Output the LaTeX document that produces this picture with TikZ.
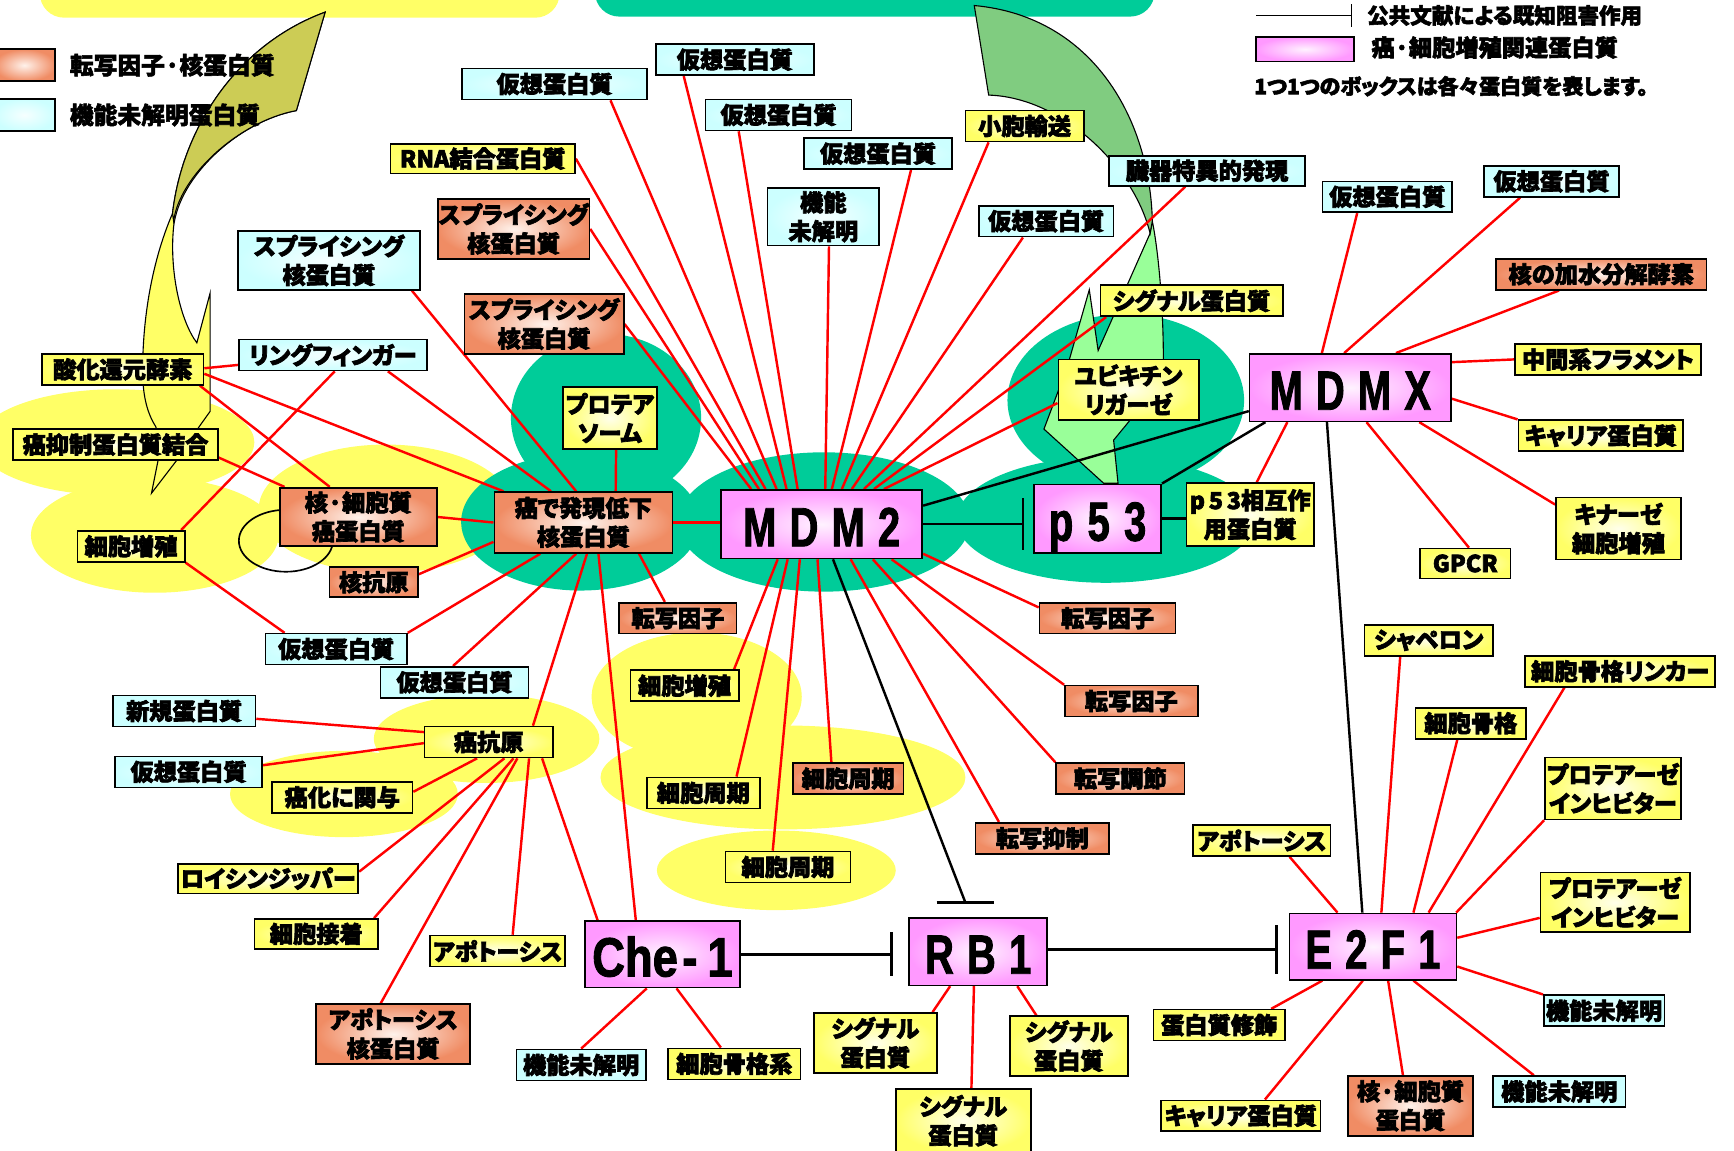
\documentclass[tikz,border=0pt]{standalone}
\usepackage{fontspec}
\setmainfont{Noto Sans CJK JP}[RawFeature=+palt]
\newfontfamily\hubfont{Liberation Sans}[FakeStretch=0.72]
\newfontfamily\chefont{Liberation Sans}[FakeStretch=0.82]
\usetikzlibrary{calc,arrows.meta}
\pgfdeclarelayer{bg}
\pgfdeclarelayer{edges}
\pgfsetlayers{bg,edges,main}
\definecolor{cY}{RGB}{255,255,102}
\definecolor{cYi}{RGB}{255,255,235}
\definecolor{cC}{RGB}{204,255,255}
\definecolor{cCi}{RGB}{246,255,255}
\definecolor{cO}{RGB}{240,140,100}
\definecolor{cOi}{RGB}{255,242,235}
\definecolor{cP}{RGB}{255,153,255}
\definecolor{cPi}{RGB}{255,242,255}
\definecolor{cG}{RGB}{0,204,153}
\definecolor{cOl}{RGB}{204,204,85}
\definecolor{cGd}{RGB}{128,204,128}
\definecolor{cGl}{RGB}{153,255,153}
\newcommand\hubgap{\hspace{12pt}}
\begin{document}
\begin{tikzpicture}[x=1pt,y=-1pt,
  heavy/.style={execute at begin node={\special{pdf:literal direct 2 Tr #1 w}},
                execute at end node={\special{pdf:literal direct 0 Tr}}},
  box/.style={draw=black,line width=1.5pt,inner sep=0pt,align=center,heavy=0.6,
              font=\bfseries\fontsize{21}{26}\selectfont},
  wh/.style 2 args={minimum width=#1pt,minimum height=#2pt},
  yb/.style={box,inner color=cYi,outer color=cY},
  cb/.style={box,inner color=cCi,outer color=cC},
  ob/.style={box,inner color=cOi,outer color=cO},
  pk/.style={box,inner color=cPi,outer color=cP},
  hub/.style={pk,heavy=0.8,font=\hubfont\bfseries\fontsize{50}{50}\selectfont,text height=40pt,text depth=0pt},
  lg/.style={anchor=west,inner sep=0pt,heavy=0.5},
  redl/.style={draw=red,line width=2.2pt},
  blk/.style={draw=black,line width=2.2pt},
  inh/.style={blk,-{Bar[width=#1pt,line width=2.2pt]}},
]
\useasboundingbox (0,0) rectangle (1568,1040);

% ---------------- background ----------------
\begin{pgfonlayer}{bg}
\fill[cY,rounded corners=22pt] (36,-40) rectangle (506,16);
\fill[cG,rounded corners=22pt] (538,-40) rectangle (1044,15);
% yellow clouds
\fill[cY] (105,400) ellipse [x radius=125,y radius=48];
\fill[cY] (140,484) ellipse [x radius=112,y radius=52];
\fill[cY] (349,460) ellipse [x radius=115,y radius=58];
\fill[cY] (440,668) ellipse [x radius=102,y radius=40];
\fill[cY] (311,718) ellipse [x radius=103,y radius=39];
\fill[cY] (630,630) ellipse [x radius=95,y radius=58];
\fill[cY] (708,703) ellipse [x radius=165,y radius=47];
\fill[cY] (702,787) ellipse [x radius=108,y radius=36];
% green clouds
\fill[cG] (745,472) ellipse [x radius=132,y radius=63];
\fill[cG] (548,378) ellipse [x radius=86,y radius=76];
\fill[cG] (525,472) ellipse [x radius=108,y radius=62];
\fill[cG] (1018,362) ellipse [x radius=107,y radius=78];
\fill[cG] (1000,470) ellipse [x radius=135,y radius=57];
% left curved arrow
\filldraw[fill=cY,draw=black,line width=1pt] (294,11) -- (268,100)
  .. controls (215,110) and (162,160) .. (157,205)
  .. controls (153,245) and (163,290) .. (178,310) -- (190,265) -- (190,372)
  -- (180,386) -- (160,416) -- (137,446) -- (143,416) -- (141,386)
  .. controls (132,372) and (129,355) .. (129,335)
  .. controls (129,280) and (140,230) .. (156,193)
  .. controls (165,115) and (215,40) .. (294,11) -- cycle;
\filldraw[fill=cOl,draw=black,line width=1pt] (294,11) -- (268,100)
  .. controls (215,110) and (162,160) .. (157,200) -- (156,193)
  .. controls (165,115) and (215,40) .. (294,11) -- cycle;
% right curved arrow
\filldraw[fill=cGl,draw=black,line width=1pt] (1042,200)
  .. controls (1048,230) and (1052,280) .. (1052,326) -- (1021,381) -- (1007,398)
  -- (1011,437) -- (998,437) -- (944,388) -- (965,332) -- (985,262) -- (993,317)
  -- (1040,211) -- cycle;
\filldraw[fill=cGd,draw=black,line width=1pt] (881,5) -- (894,86)
  .. controls (960,88) and (1025,150) .. (1040,211) -- (1042,200)
  .. controls (1040,110) and (990,15) .. (881,5) -- cycle;
\end{pgfonlayer}

% ---------------- nodes ----------------
\node[cb,wh={167}{28}] (v1) at (501.5,76) {仮想蛋白質};
\node[cb,wh={143}{28}] (v2) at (664.5,54) {仮想蛋白質};
\node[cb,wh={132}{28}] (v3) at (704,104) {仮想蛋白質};
\node[cb,wh={134}{28}] (v4) at (794,139) {仮想蛋白質};
\node[cb,wh={101}{52}] (kino1) at (744.5,196) {機能\\未解明};
\node[cb,wh={122}{28}] (v6) at (946,200) {仮想蛋白質};
\node[yb,wh={107}{28}] (shoho) at (926.5,114) {小胞輸送};
\node[cb,wh={177}{27}] (zoki) at (1091.5,154.5) {臓器特異的発現};
\node[yb,wh={167}{27}] (rna) at (436.5,143.5) {RNA結合蛋白質};
\node[ob,wh={137}{54}] (spl1) at (464.5,207) {スプライシング\\核蛋白質};
\node[cb,wh={165}{53}] (spl2) at (297.5,235.5) {スプライシング\\核蛋白質};
\node[ob,wh={144}{54}] (spl3) at (492,293) {スプライシング\\核蛋白質};
\node[cb,wh={170}{28}] (ring) at (301,321) {リングフィンガー};
\node[yb,wh={146}{28}] (sanka) at (111,334) {酸化還元酵素};
\node[yb,wh={185}{28}] (ganyoku) at (104.5,402) {癌抑制蛋白質結合};
\node[yb,wh={97}{28}] (saibo1) at (118.5,494) {細胞増殖};
\node[ob,wh={142}{53}] (kakusai) at (324,467.5) {核·細胞質\\癌蛋白質};
\node[ob,wh={80}{27}] (kakukogen) at (338,526.5) {核抗原};
\node[ob,wh={161}{55}] (gande) at (527.5,472.5) {癌で発現低下\\核蛋白質};
\node[yb,wh={85}{56}] (prot) at (551.5,378) {プロテア\\ソーム};
\node[yb,wh={127}{55}] (ubiq) at (1020.5,352.5) {ユビキチン\\リガーゼ};
\node[yb,wh={165}{28}] (signal1) at (1077.5,272) {シグナル蛋白質};
\node[yb,wh={115}{57}] (p53i) at (1130.5,465.5) {p\,5\,3相互作\\用蛋白質};
\node[cb,wh={117}{28}] (v24) at (1254.5,178) {仮想蛋白質};
\node[cb,wh={122}{28}] (v25) at (1403,164) {仮想蛋白質};
\node[ob,wh={190}{28}] (kasui) at (1448,248) {核の加水分解酵素};
\node[yb,wh={168}{28}] (chukan) at (1454,325) {中間系フラメント};
\node[yb,wh={149}{28}] (carrier1) at (1447.5,394) {キャリア蛋白質};
\node[yb,wh={113}{56}] (kinase) at (1463.5,478) {キナーゼ\\細胞増殖};
\node[yb,wh={82}{27}] (gpcr) at (1325,509.5) {GPCR};
\node[ob,wh={123}{28}] (tf1) at (1001.5,559) {転写因子};
\node[ob,wh={120}{28}] (tf2) at (1023,634) {転写因子};
\node[ob,wh={116}{28}] (tenchou) at (1013,704) {転写調節};
\node[ob,wh={121}{28}] (tenyoku) at (942.5,758) {転写抑制};
\node[ob,wh={106}{28}] (tf3) at (613,559) {転写因子};
\node[yb,wh={98}{28}] (saibo2) at (619,620) {細胞増殖};
\node[yb,wh={102}{28}] (cyc1) at (636,717) {細胞周期};
\node[ob,wh={100}{28}] (cyc2) at (767,704) {細胞周期};
\node[yb,wh={113}{28}] (cyc3) at (712.5,784) {細胞周期};
\node[cb,wh={128}{28}] (v40) at (304,587) {仮想蛋白質};
\node[cb,wh={134}{28}] (v41) at (411,617) {仮想蛋白質};
\node[cb,wh={129}{28}] (shinki) at (166.5,643) {新規蛋白質};
\node[yb,wh={116}{28}] (gankogen) at (442,671) {癌抗原};
\node[cb,wh={133}{28}] (v44) at (170.5,698) {仮想蛋白質};
\node[yb,wh={127}{28}] (ganka) at (309.5,721) {癌化に関与};
\node[yb,wh={163}{27}] (leucine) at (242.5,794.5) {ロイシンジッパー};
\node[yb,wh={112}{27}] (setchaku) at (286,844.5) {細胞接着};
\node[yb,wh={122}{28}] (apo1) at (450,860) {アポトーシス};
\node[ob,wh={139}{54}] (apo2) at (355.5,935) {アポトーシス\\核蛋白質};
\node[cb,wh={117}{28}] (kino2) at (525.5,963) {機能未解明};
\node[yb,wh={120}{28}] (kokkaku1) at (664,962) {細胞骨格系};
\node[yb,wh={111}{54}] (sig2) at (791.5,943) {シグナル\\蛋白質};
\node[yb,wh={107}{54}] (sig3) at (966.5,946) {シグナル\\蛋白質};
\node[yb,wh={122}{57}] (sig4) at (871,1013.5) {シグナル\\蛋白質};
\node[yb,wh={116}{28}] (chaperone) at (1292,579) {シャペロン};
\node[yb,wh={172}{28}] (linker) at (1465,607) {細胞骨格リンカー};
\node[yb,wh={100}{28}] (kokkaku2) at (1330,654) {細胞骨格};
\node[yb,wh={123}{56}] (pi1) at (1458.5,713) {プロテアーゼ\\インヒビター};
\node[yb,wh={135}{54}] (pi2) at (1460.5,816) {プロテアーゼ\\インヒビター};
\node[yb,wh={124}{28}] (apo3) at (1141,760) {アポトーシス};
\node[yb,wh={119}{28}] (shushoku) at (1102.5,927) {蛋白質修飾};
\node[cb,wh={109}{28}] (kino3) at (1450.5,914) {機能未解明};
\node[yb,wh={144}{28}] (carrier2) at (1122,1009) {キャリア蛋白質};
\node[ob,wh={113}{54}] (kakusai2) at (1275.5,1000) {核·細胞質\\蛋白質};
\node[cb,wh={120}{28}] (kino4) at (1410,987) {機能未解明};

% hubs
\node[hub,wh={182}{62}] (mdm2) at (743,474) {M\hubgap D\hubgap M\hubgap 2};
\node[hub,wh={115}{62}] (p53) at (992.5,469) {p\hspace{13pt}5\hspace{13pt}3};
\node[hub,wh={182}{61}] (mdmx) at (1221,350.5) {M\hubgap D\hubgap M\hubgap X};
\node[hub,wh={140}{60},font=\chefont\bfseries\fontsize{50}{50}\selectfont] (che1) at (599,863) {Che\hspace{4pt}-\hspace{9pt}1};
\node[hub,wh={125}{61}] (rb1) at (884.5,860.5) {R\hubgap B\hubgap 1};
\node[hub,wh={151}{60}] (e2f1) at (1241.5,856) {E\hubgap 2\hubgap F\hubgap 1};

% legends
\node[ob,wh={56}{29}] (lgo) at (22,59) {};
\node[lg,font=\bfseries\fontsize{21.5}{22}\selectfont] (lgot) at (63,59) {転写因子·核蛋白質};
\node[cb,wh={56}{29}] (lgc) at (22,104) {};
\node[lg,font=\bfseries\fontsize{21.5}{22}\selectfont] (lgct) at (63,104) {機能未解明蛋白質};
\coordinate (lga) at (1136,14);
\coordinate (lgb) at (1223,14);
\node[lg,font=\bfseries\fontsize{19.5}{20}\selectfont] (lgt1) at (1236,14) {公共文献による既知阻害作用};
\node[pk,wh={89}{22}] (lgp) at (1180,44.5) {};
\node[lg,font=\bfseries\fontsize{21}{22}\selectfont] (lgt2) at (1240,43) {癌·細胞増殖関連蛋白質};
\node[lg,font=\bfseries\fontsize{19}{20}\selectfont] (lgt3) at (1134,78) {1つ1つのボックスは各々蛋白質を表します。};

% ---------------- connectors ----------------
\begin{pgfonlayer}{edges}
\draw[blk,line width=1.5pt,-{Bar[width=20pt,line width=1.5pt]}] (lga) -- (lgb);
% MDM2 top fan
\draw[redl] (spl3.east) -- ($(mdm2.north west)+(28,0)$);
\draw[redl] (spl1.east) -- ($(mdm2.north west)+(35,0)$);
\draw[redl] (rna.east) -- ($(mdm2.north west)+(41,0)$);
\draw[redl] ($(v1.south west)!.8!(v1.south east)$) -- ($(mdm2.north west)+(51,0)$);
\draw[redl] ($(v2.south west)!.18!(v2.south east)$) -- ($(mdm2.north west)+(60,0)$);
\draw[redl] ($(v3.south west)!.23!(v3.south east)$) -- ($(mdm2.north west)+(70,0)$);
\draw[redl] ($(kino1.south west)!.55!(kino1.south east)$) -- ($(mdm2.north west)+(95,0)$);
\draw[redl] ($(v4.south west)!.72!(v4.south east)$) -- ($(mdm2.north west)+(101,0)$);
\draw[redl] ($(shoho.south west)!.2!(shoho.south east)$) -- ($(mdm2.north west)+(110,0)$);
\draw[redl] ($(v6.south west)!.33!(v6.south east)$) -- ($(mdm2.north west)+(119,0)$);
\draw[redl] ($(zoki.south west)!.39!(zoki.south east)$) -- ($(mdm2.north west)+(130,0)$);
\draw[redl] ($(signal1.south west)+(6,0)$) -- ($(mdm2.north west)+(139,0)$);
\draw[redl] ($(ubiq.west)+(0,12)$) -- ($(mdm2.north west)+(148,0)$);
% MDM2 bottom
\draw[redl] ($(saibo2.north west)!.95!(saibo2.north east)$) -- ($(mdm2.south west)+(52,0)$);
\draw[redl] ($(cyc1.north west)!.79!(cyc1.north east)$) -- ($(mdm2.south west)+(61,0)$);
\draw[redl] ($(cyc3.north west)!.38!(cyc3.north east)$) -- ($(mdm2.south west)+(72,0)$);
\draw[redl] ($(cyc2.north west)!.35!(cyc2.north east)$) -- ($(mdm2.south west)+(88,0)$);
\draw[redl] ($(mdm2.south west)+(118,0)$) -- ($(tenyoku.north west)!.18!(tenyoku.north east)$);
\draw[redl] ($(mdm2.south west)+(138,0)$) -- (tenchou.north west);
\draw[redl] ($(mdm2.south west)+(155,0)$) -- (tf2.north west);
\draw[redl] ($(mdm2.south east)+(0,-5)$) -- ($(tf1.north west)+(0,5)$);
% MDM2 black
\coordinate (rbT) at ($(rb1.north)+(-11.5,-13)$);
\draw[blk] ($(mdm2.south west)+(102,0)$) -- (rbT);
\draw[blk] ($(rbT)+(-26,0)$) -- ($(rbT)+(26,0)$);
\draw[inh=47,shorten >=8pt] (mdm2.east) -- (mdm2.east -| p53.west);
\draw[blk] ($(mdm2.north east)+(0,15)$) -- ($(mdmx.south west)+(0,-10)$);
\draw[blk] (p53.north east) -- ($(mdmx.south west)+(15,0)$);
\draw[blk] (p53.east) -- (p53.east -| p53i.west);
\draw[blk] ($(mdmx.south west)!.385!(mdmx.south east)$) -- ($(e2f1.north west)!.437!(e2f1.north east)$);
% MDMX
\draw[redl] ($(v24.south west)!.27!(v24.south east)$) -- ($(mdmx.north west)!.36!(mdmx.north east)$);
\draw[redl] ($(v25.south west)!.27!(v25.south east)$) -- ($(mdmx.north west)!.47!(mdmx.north east)$);
\draw[redl] ($(kasui.south west)!.3!(kasui.south east)$) -- ($(mdmx.north west)!.725!(mdmx.north east)$);
\draw[redl] ($(mdmx.east)+(0,-23)$) -- (chukan.west);
\draw[redl] ($(mdmx.east)+(0,10)$) -- (carrier1.north west);
\draw[redl] ($(mdmx.south west)!.84!(mdmx.south east)$) -- ($(kinase.north west)+(0,7)$);
\draw[redl] ($(mdmx.south west)!.58!(mdmx.south east)$) -- ($(gpcr.north west)!.54!(gpcr.north east)$);
\draw[redl] ($(mdmx.south west)!.19!(mdmx.south east)$) -- ($(p53i.north west)!.55!(p53i.north east)$);
% Che-1
\draw[redl] ($(gande.south west)!.584!(gande.south east)$) -- ($(che1.north west)!.33!(che1.north east)$);
\draw[redl] ($(gankogen.south west)!.91!(gankogen.south east)$) -- ($(che1.north west)!.086!(che1.north east)$);
\draw[redl] ($(che1.south west)!.4!(che1.south east)$) -- (kino2.north);
\draw[redl] ($(che1.south west)!.59!(che1.south east)$) -- ($(kokkaku1.north west)!.4!(kokkaku1.north east)$);
\draw[inh=40,shorten >=14pt] (che1.east) -- (che1.east -| rb1.west);
% RB1
\coordinate (rbE) at ($(rb1.east)+(0,-2)$);
\draw[inh=44,shorten >=10pt] (rbE) -- (rbE -| e2f1.west);
\draw[redl] ($(rb1.south west)!.3!(rb1.south east)$) -- ($(sig2.north west)!.96!(sig2.north east)$);
\draw[redl] ($(rb1.south west)!.47!(rb1.south east)$) -- ($(sig4.north west)!.56!(sig4.north east)$);
\draw[redl] ($(rb1.south west)!.78!(rb1.south east)$) -- ($(sig3.north west)!.23!(sig3.north east)$);
% E2F1
\draw[redl] ($(apo3.south west)!.7!(apo3.south east)$) -- ($(e2f1.north west)!.29!(e2f1.north east)$);
\draw[redl] ($(chaperone.south west)!.28!(chaperone.south east)$) -- ($(e2f1.north west)!.55!(e2f1.north east)$);
\draw[redl] ($(kokkaku2.south west)!.38!(kokkaku2.south east)$) -- ($(e2f1.north west)!.74!(e2f1.north east)$);
\draw[redl] ($(linker.south west)!.21!(linker.south east)$) -- ($(e2f1.north west)!.83!(e2f1.north east)$);
\draw[redl] (pi1.south west) -- ($(e2f1.north east)+(-1,0)$);
\draw[redl] ($(pi2.west)+(0,14)$) -- ($(e2f1.east)+(0,-8)$);
\draw[redl] (kino3.north west) -- ($(e2f1.east)+(0,18)$);
\draw[redl] ($(kino4.north west)!.31!(kino4.north east)$) -- ($(e2f1.south west)!.74!(e2f1.south east)$);
\draw[redl] ($(kakusai2.north west)!.44!(kakusai2.north east)$) -- ($(e2f1.south west)!.59!(e2f1.south east)$);
\draw[redl] ($(carrier2.north west)!.65!(carrier2.north east)$) -- ($(e2f1.south west)!.44!(e2f1.south east)$);
\draw[redl] ($(shushoku.north west)!.89!(shushoku.north east)$) -- ($(e2f1.south west)!.2!(e2f1.south east)$);
% left group
\draw[redl] ($(sanka.east)+(0,-1)$) -- ($(ring.west)+(0,9)$);
\draw[redl] ($(sanka.south east)+(-4,0)$) -- ($(kakusai.north west)!.32!(kakusai.north east)$);
\draw[redl] ($(sanka.east)+(0,4)$) -- ($(gande.north west)+(9,0)$);
\draw[redl] ($(ring.south west)!.51!(ring.south east)$) -- ($(saibo1.north west)!.96!(saibo1.north east)$);
\draw[redl] ($(ring.south west)!.79!(ring.south east)$) -- ($(gande.north west)!.32!(gande.north east)$);
\draw[redl] ($(spl2.south west)!.95!(spl2.south east)$) -- ($(gande.north west)!.46!(gande.north east)$);
\draw[redl] ($(ganyoku.south east)+(0,-3)$) -- ($(kakusai.north west)+(5,0)$);
\draw[redl] (kakusai.east) -- (gande.west);
\draw[redl] ($(kakukogen.north east)+(0,7)$) -- ($(gande.west)+(0,17.5)$);
\draw[redl] (saibo1.south east) -- ($(v40.north west)!.14!(v40.north east)$);
\draw[redl] (v40.north east) -- ($(gande.south west)!.26!(gande.south east)$);
\draw[redl] ($(v41.north west)!.49!(v41.north east)$) -- ($(gande.south west)!.46!(gande.south east)$);
\draw[redl] ($(gankogen.north west)!.84!(gankogen.north east)$) -- ($(gande.south west)!.52!(gande.south east)$);
\draw[redl] ($(gande.south west)!.81!(gande.south east)$) -- ($(tf3.north west)!.39!(tf3.north east)$);
\draw[redl] ($(prot.south west)!.565!(prot.south east)$) -- ($(gande.north west)!.68!(gande.north east)$);
\draw[redl] (gande.east) -- (gande.east -| mdm2.west);
\draw[redl] ($(shinki.east)+(0,7)$) -- ($(gankogen.west)+(0,-9)$);
\draw[redl] ($(v44.east)+(0,-6)$) -- ($(gankogen.west)+(0,1)$);
\draw[redl] ($(ganka.east)+(0,-5)$) -- ($(gankogen.south west)!.41!(gankogen.south east)$);
\draw[redl] ($(leucine.north east)+(0,8)$) -- ($(gankogen.south west)!.62!(gankogen.south east)$);
\draw[redl] ($(setchaku.north west)!.96!(setchaku.north east)$) -- ($(gankogen.south west)!.69!(gankogen.south east)$);
\draw[redl] ($(apo2.north west)!.42!(apo2.north east)$) -- ($(gankogen.south west)!.72!(gankogen.south east)$);
\draw[redl] ($(apo1.north west)!.61!(apo1.north east)$) -- ($(gankogen.south west)!.81!(gankogen.south east)$);
% self loop of the nuclear/cytoplasmic oncoprotein
\draw[black,line width=1.5pt] (258.5,489) ellipse [x radius=42.5,y radius=28];
\end{pgfonlayer}
\end{tikzpicture}
\end{document}
